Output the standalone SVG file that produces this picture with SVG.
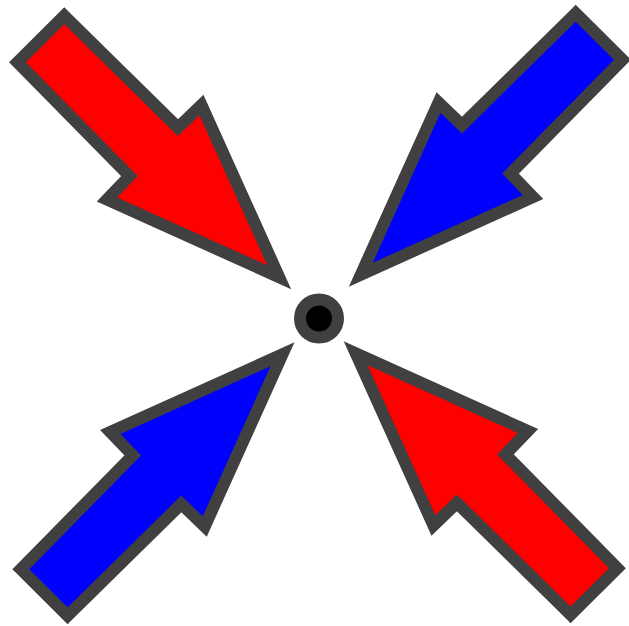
<svg xmlns="http://www.w3.org/2000/svg" xmlns:xlink="http://www.w3.org/1999/xlink" width="629" height="626" viewBox="0 0 629 626">
  <style>
    .arrow { stroke: #404040; stroke-width: 12; stroke-linejoin: miter; stroke-miterlimit: 10; }
    .red { fill: #ff0000; }
    .blue { fill: #0000ff; }
    .dot { fill: #000000; stroke: #404040; stroke-width: 12; }
  </style>
  <defs>
    <polygon id="arrowShape" points="64.3,15.7 177.95,127.55 201.45,105.05 279.2,277.2 106.95,199.55 129.45,176.05 17.5,62.3"/>
  </defs>
  <rect width="629" height="626" fill="#ffffff"/>
  <g id="arrow-top-left">
    <use xlink:href="#arrowShape" href="#arrowShape" class="arrow red"/>
  </g>
  <g id="arrow-top-right">
    <use xlink:href="#arrowShape" href="#arrowShape" class="arrow blue" transform="matrix(-1,0,0,1,640,-2.5)"/>
  </g>
  <g id="arrow-bottom-left">
    <use xlink:href="#arrowShape" href="#arrowShape" class="arrow blue" transform="matrix(1,0,0,-1,3.3,631.5)"/>
  </g>
  <g id="arrow-bottom-right">
    <use xlink:href="#arrowShape" href="#arrowShape" class="arrow red" transform="matrix(-1,0,0,-1,634.9,630.5)"/>
  </g>
  <g id="center-dot">
    <circle class="dot" cx="319" cy="318.5" r="19"/>
  </g>
</svg>
